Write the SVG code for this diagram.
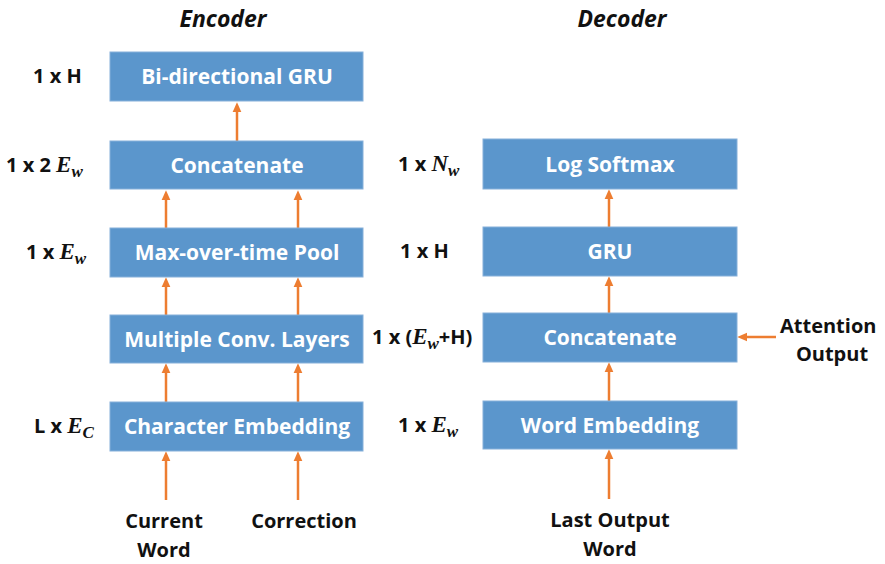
<svg xmlns="http://www.w3.org/2000/svg" width="885" height="564" viewBox="0 0 885 564">
<defs>
<style>
.box{fill:#5b96cc;stroke:#86b0da;stroke-width:1}
.bt{font-family:"Open Sans","Liberation Sans",sans-serif;font-weight:bold;font-size:21px;fill:#fff;text-anchor:middle}
.lb{font-family:"Open Sans","Liberation Sans",sans-serif;font-weight:bold;font-size:20px;fill:#111}
.m{font-family:"Liberation Serif",serif;font-style:italic;font-weight:bold}
.ttl{font-family:"Open Sans","Liberation Sans",sans-serif;font-weight:bold;font-style:italic;font-size:23px;fill:#111;text-anchor:middle}
.ar{stroke:#ed7d31;stroke-width:2.5;fill:none;marker-end:url(#ah)}
</style>
<marker id="ah" markerWidth="10" markerHeight="10" refX="2" refY="4" orient="auto" markerUnits="userSpaceOnUse" viewBox="0 0 9 8">
<path d="M0,0 L9,4 L0,8 z" fill="#ed7d31"/>
</marker>
</defs>
<rect width="885" height="564" fill="#fff"/>
<text class="ttl" x="223" y="27">Encoder</text>
<text class="ttl" x="622" y="27">Decoder</text>

<g id="connectors">
<line class="ar" x1="237" y1="141" x2="237" y2="110"/>
<line class="ar" x1="166" y1="228" x2="166" y2="198"/>
<line class="ar" x1="298" y1="228" x2="298" y2="198"/>
<line class="ar" x1="166" y1="315" x2="166" y2="285"/>
<line class="ar" x1="298" y1="315" x2="298" y2="285"/>
<line class="ar" x1="166" y1="402" x2="166" y2="371"/>
<line class="ar" x1="298" y1="402" x2="298" y2="371"/>
<line class="ar" x1="166" y1="500" x2="166" y2="459"/>
<line class="ar" x1="298" y1="500" x2="298" y2="459"/>
<line class="ar" x1="609" y1="227" x2="609" y2="197"/>
<line class="ar" x1="609" y1="313" x2="609" y2="284"/>
<line class="ar" x1="609" y1="401" x2="609" y2="370"/>
<line class="ar" x1="609" y1="499" x2="609" y2="457"/>
<line class="ar" x1="776" y1="337" x2="745" y2="337"/>
</g>

<g id="enc-bigru">
<rect class="box" x="110" y="52" width="253" height="49"/>
<text class="bt" x="237" y="84">Bi-directional GRU</text>
<text class="lb" x="33" y="83">1 x H</text>
</g>
<g id="enc-concat">
<rect class="box" x="110" y="141" width="253" height="48"/>
<text class="bt" x="237" y="173">Concatenate</text>
<text class="lb" x="6" y="172">1 x 2 <tspan class="m" font-size="23">E</tspan><tspan class="m" font-size="17" dy="5">w</tspan></text>
</g>
<g id="enc-pool">
<rect class="box" x="110" y="228" width="253" height="49"/>
<text class="bt" x="237" y="260">Max-over-time Pool</text>
<text class="lb" x="26" y="259">1 x <tspan class="m" font-size="23">E</tspan><tspan class="m" font-size="17" dy="5">w</tspan></text>
</g>
<g id="enc-conv">
<rect class="box" x="110" y="315" width="253" height="48"/>
<text class="bt" x="237" y="347">Multiple Conv. Layers</text>
</g>
<g id="enc-charemb">
<rect class="box" x="110" y="402" width="253" height="49"/>
<text class="bt" x="237" y="434">Character Embedding</text>
<text class="lb" x="34" y="433">L x <tspan class="m" font-size="23">E</tspan><tspan class="m" font-size="17" dy="5">C</tspan></text>
</g>
<g id="in-current">
<text class="lb" x="164" y="528" text-anchor="middle">Current</text>
<text class="lb" x="164" y="557" text-anchor="middle">Word</text>
</g>
<g id="in-correction">
<text class="lb" x="304" y="528" text-anchor="middle">Correction</text>
</g>

<g id="dec-softmax">
<rect class="box" x="483" y="139" width="254" height="50"/>
<text class="bt" x="610" y="172">Log Softmax</text>
<text class="lb" x="398" y="171">1 x <tspan class="m" font-size="23">N</tspan><tspan class="m" font-size="17" dy="5">w</tspan></text>
</g>
<g id="dec-gru">
<rect class="box" x="483" y="227" width="254" height="49"/>
<text class="bt" x="610" y="259">GRU</text>
<text class="lb" x="400" y="258">1 x H</text>
</g>
<g id="dec-concat">
<rect class="box" x="483" y="313" width="254" height="49"/>
<text class="bt" x="610" y="345">Concatenate</text>
<text class="lb" x="372" y="344">1 x (<tspan class="m" font-size="23">E</tspan><tspan class="m" font-size="17" dy="5">w</tspan><tspan dy="-5">+H)</tspan></text>
</g>
<g id="dec-wordemb">
<rect class="box" x="483" y="401" width="254" height="48"/>
<text class="bt" x="610" y="433">Word Embedding</text>
<text class="lb" x="398" y="432">1 x <tspan class="m" font-size="23">E</tspan><tspan class="m" font-size="17" dy="5">w</tspan></text>
</g>
<g id="in-attention">
<text class="lb" x="780" y="333">Attention</text>
<text class="lb" x="832" y="361" text-anchor="middle">Output</text>
</g>
<g id="in-lastoutput">
<text class="lb" x="610" y="527" text-anchor="middle">Last Output</text>
<text class="lb" x="610" y="556" text-anchor="middle">Word</text>
</g>
</svg>
